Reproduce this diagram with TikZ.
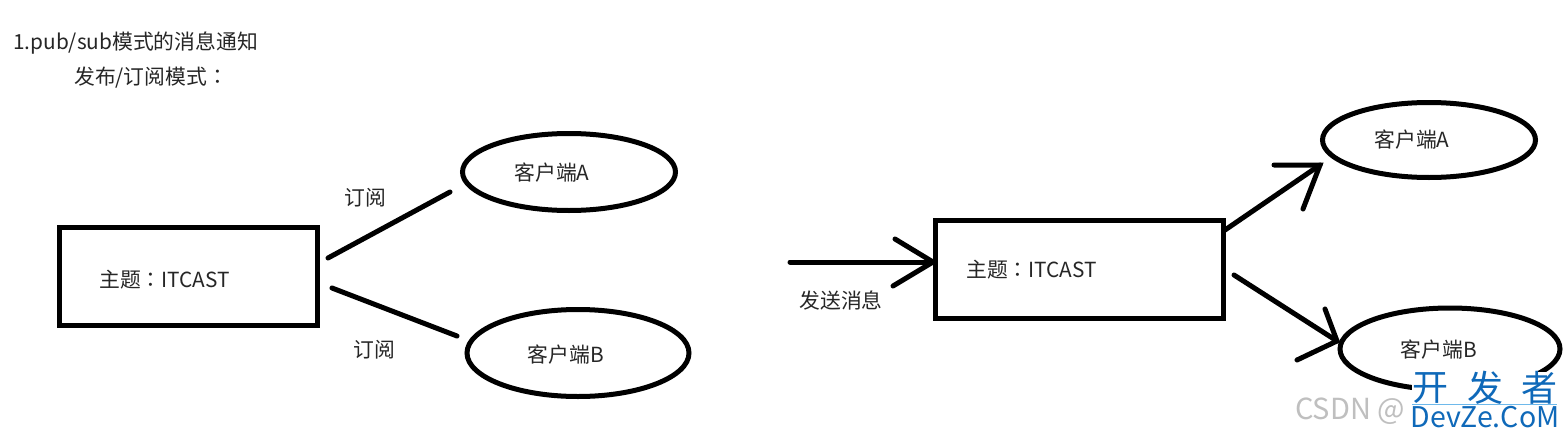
\documentclass[tikz,border=0pt]{standalone}
\usepackage{fontspec}
\setmainfont{Noto Sans CJK SC}
\newfontfamily\tcf{Noto Sans CJK TC}
\newcommand{\cn}{{\tcf ：}}
\definecolor{wmblue}{RGB}{15,105,185}
\definecolor{wmline}{RGB}{110,185,235}
\usetikzlibrary{shapes.geometric}
\tikzset{x=1pt,y=-1pt,
 lbl/.style={inner sep=0pt,font=\fontsize{20.8pt}{22pt}\selectfont,text=black!85},
 boxn/.style={draw=black,line width=5pt,inner sep=0pt},
 ell/.style={draw=black,line width=5pt,ellipse,inner sep=0pt},
 conn/.style={draw=black,line width=5pt,line cap=round},
 headl/.style={draw=black,line width=5pt,line cap=round,line join=miter},
 wmcn/.style={inner sep=0pt,text=wmblue,font=\fontsize{36pt}{38pt}\selectfont},
 wmen/.style={inner sep=0pt,text=wmblue,font=\fontsize{28.5pt}{30pt}\selectfont},
 wmgr/.style={inner sep=0pt,text=black!25,font=\fontsize{29pt}{31pt}\selectfont}}
\begin{document}
\begin{tikzpicture}
\useasboundingbox (0,0) rectangle (1568,439);
\fill[white] (0,0) rectangle (1568,439);
\node[lbl,anchor=west] (t1) at (13,43) {1.pub/sub模式的消息通知};
\node[lbl,anchor=west] (t2) at (74,78) {发布/订阅模式\cn};
\node[boxn,minimum width=258pt,minimum height=98pt] (b1) at (188,276) {};
\node[lbl,anchor=west] (t3) at (99,280) {主题\cn ITCAST};
\node[ell,minimum width=213pt,minimum height=77pt] (a1) at (569,172) {};
\node[lbl] (t4) at (552,173) {客户端A};
\node[ell,minimum width=222pt,minimum height=87pt] (c1) at (578,353) {};
\node[lbl] (t5) at (566,355) {客户端B};
\coordinate (p1) at (328,258); \coordinate (p2) at (450,192);
\coordinate (p3) at (332,288); \coordinate (p4) at (457,336);
\draw[conn] (p1) -- (p2);
\draw[conn] (p3) -- (p4);
\node[lbl] (t6) at (365,198) {订阅};
\node[lbl] (t7) at (374,350) {订阅};
\node[boxn,minimum width=288pt,minimum height=98pt] (b2) at (1079,269) {};
\node[lbl,anchor=west] (t8) at (966,270) {主题\cn ITCAST};
\node[ell,minimum width=213pt,minimum height=75pt] (a2) at (1429,140) {};
\node[lbl] (t9) at (1412,140) {客户端A};
\node[ell,minimum width=220pt,minimum height=82pt] (c2) at (1450,349) {};
\node[lbl] (t10) at (1439,350) {客户端B};
\coordinate (s) at (790,262); \coordinate (e) at (933,262);
\draw[conn] (s) -- (e);
\draw[headl] (895,239) -- (933,262) -- (893,286);
\node[lbl] (t11) at (841,301) {发送消息};
\coordinate (q1) at (1225,230); \coordinate (q2) at (1320,165);
\draw[conn] (q1) -- (q2);
\draw[headl] (1274,165) -- (1320,165) -- (1303,209);
\coordinate (r1) at (1234,275); \coordinate (r2) at (1337,341);
\draw[conn] (r1) -- (r2);
\draw[headl] (1325,309) -- (1337,341) -- (1297,360);
\fill[white] (1412,372) rectangle (1558,439);
\node[wmgr,anchor=west] (w0) at (1295,411) {CSDN @};
\node[wmcn] (w1) at (1430,388) {开};
\node[wmcn] (w2) at (1485,388) {发};
\node[wmcn] (w3) at (1539,388) {者};
\draw[wmline,line width=1pt] (1412,404) -- (1557,404);
\node[wmen] (w4) at (1485,417) {DevZe.CoM};
\end{tikzpicture}
\end{document}
